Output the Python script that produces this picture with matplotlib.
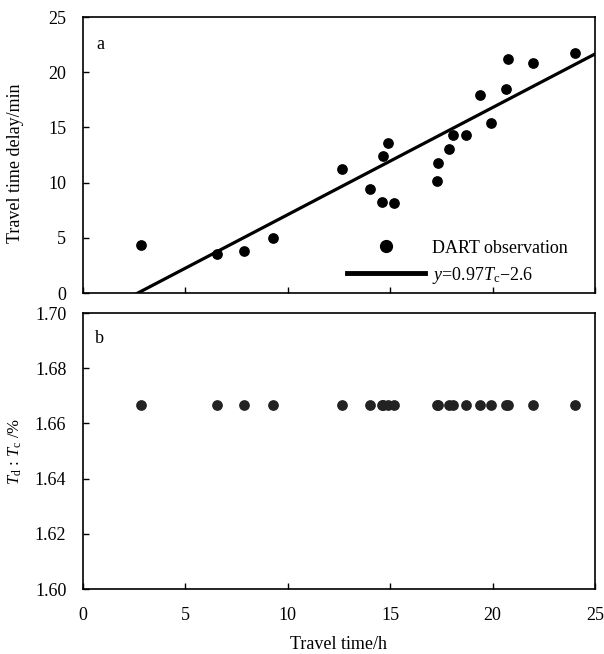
import matplotlib.pyplot as plt
from matplotlib.lines import Line2D

plt.rcParams['font.family'] = ['Liberation Serif', 'DejaVu Serif']
plt.rcParams['mathtext.fontset'] = 'custom'
plt.rcParams['mathtext.rm'] = 'Liberation Serif'
plt.rcParams['mathtext.it'] = 'Liberation Serif:italic'

# travel time (h) and travel time delay (min)
travel_time = [2.82, 6.53, 7.85, 9.29, 12.63, 14.0, 14.6, 15.17, 14.65, 14.91,
               17.27, 17.32, 17.89, 18.07, 18.7, 19.37, 19.92, 20.65, 20.75,
               21.96, 24.02]
delay = [4.35, 3.5, 3.8, 4.98, 11.26, 9.39, 8.27, 8.18, 12.38, 13.6,
         10.17, 11.78, 13.07, 14.28, 14.31, 17.9, 15.37, 18.5, 21.17,
         20.8, 21.77]
ratio = [1.6667] * len(travel_time)

slope = 0.97
intercept = -2.6
fit_x = [0, 25]
fit_y = [slope * v + intercept for v in fit_x]

fs = 13

fig = plt.figure(figsize=(6.04, 6.54), dpi=100)
ax1 = fig.add_axes([83/604, 1 - 293/654, 512/604, 276/654])
ax2 = fig.add_axes([83/604, 1 - 589/654, 512/604, 276/654])

#top panel
ax1.scatter(travel_time, delay, s=45, color='black', zorder=3)
ax1.plot(fit_x, fit_y, color='black', linewidth=2.3)
ax1.set_xlim(0, 25)
ax1.set_ylim(0, 25)
ax1.set_xticks([0, 5, 10, 15, 20, 25])
ax1.set_xticklabels([])
ax1.set_yticks([0, 5, 10, 15, 20, 25])
ax1.set_ylabel('Travel time delay/min', fontsize=fs)
ax1.yaxis.set_label_coords(-0.115, 0.47)
ax1.text(0.033, 0.9, 'a', transform=ax1.transAxes, fontsize=fs,
         ha='center', va='center')

handles = [Line2D([], [], marker='o', linestyle='none', color='black', markersize=8.5),
           Line2D([], [], color='black', linewidth=3.5)]
labels = ['DART observation', r'$y$=0.97$T_{\rm c}$−2.6']
ax1.legend(handles, labels, loc='lower left', frameon=False, fontsize=fs,
           handlelength=4.3, borderaxespad=0, labelspacing=0.45,
           handletextpad=0.4, bbox_to_anchor=(0.502, 0.0))

#bottom panel
ax2.scatter(travel_time, ratio, s=45, color='#222222', zorder=3)
ax2.set_xlim(0, 25)
ax2.set_ylim(1.60, 1.70)
ax2.set_xticks([0, 5, 10, 15, 20, 25])
ax2.set_yticks([1.60, 1.62, 1.64, 1.66, 1.68, 1.70])
ax2.set_yticklabels(['1.60', '1.62', '1.64', '1.66', '1.68', '1.70'])
ax2.set_xlabel('Travel time/h', fontsize=fs)
ax2.xaxis.set_label_coords(0.5, -0.17)
ax2.set_ylabel(r'$T_{\rm d}$ : $T_{\rm c}$ /%', fontsize=12)
ax2.yaxis.set_label_coords(-0.115, 0.5)
ax2.text(0.033, 0.906, 'b', transform=ax2.transAxes, fontsize=fs,
         ha='center', va='center')

for ax in (ax1, ax2):
    ax.tick_params(direction='in', labelsize=fs, length=4, width=1)
    ax.tick_params(axis='x', pad=13)
    ax.tick_params(axis='y', pad=12)
    for sp in ax.spines.values():
        sp.set_linewidth(1.2)

fig.savefig('out.png', dpi=100)
